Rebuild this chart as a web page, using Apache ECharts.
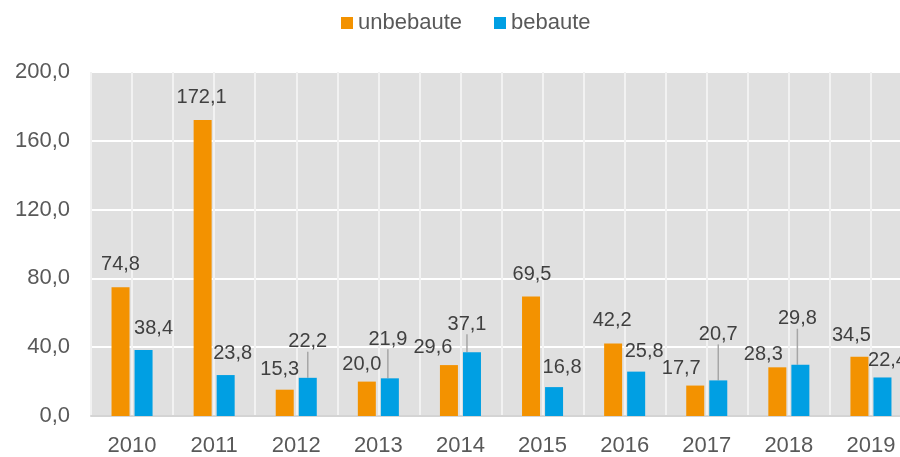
<!DOCTYPE html>
<html>
<head>
<meta charset="utf-8">
<script src="https://cdn.jsdelivr.net/npm/echarts@6/dist/echarts.min.js"></script>
<style>
  html, body { margin: 0; padding: 0; background: #ffffff; }
  #chart { width: 900px; height: 457px; }
</style>
</head>
<body>
<div id="chart"></div>
<script>
const years = ['2010', '2011', '2012', '2013', '2014', '2015', '2016', '2017', '2018', '2019'];
const unbebaute = [74.8, 172.1, 15.3, 20.0, 29.6, 69.5, 42.2, 17.7, 28.3, 34.5];
const bebaute = [38.4, 23.8, 22.2, 21.9, 37.1, 16.8, 25.8, 20.7, 29.8, 22.4];
const yTicks = [0, 40, 80, 120, 160, 200];

// label shifts (px) as placed in the original chart
const shiftUnbebaute = [[0, -8], [-1, -8], [-5, -5], [-5, -2], [-16, -3], [1, -7], [-1, -8], [-14, -2], [-14, 2], [-8, -6]];
const shiftBebaute = [[10, -6], [7, -7], [0, -21], [-2, -24], [-5, -13], [8, -5], [8, -5], [0, -31], [-3, -31], [5, -2]];
const leaderBebaute = [false, false, true, true, true, false, false, true, true, false];

const fmt = v => v.toFixed(1).replace('.', ',');

const chart = echarts.init(document.getElementById('chart'));

const labelBase = {
  show: true,
  position: 'top',
  distance: 5,
  color: '#404040',
  fontFamily: 'Liberation Sans',
  fontSize: 20,
  formatter: p => fmt(p.value)
};

chart.setOption({
  animation: false,
  textStyle: { fontFamily: 'Liberation Sans' },
  legend: {
    top: 7,
    left: 336,
    padding: [5, 5, 5, 5],
    itemWidth: 12,
    itemHeight: 12,
    itemGap: 32,
    icon: 'rect',
    textStyle: { color: '#595959', fontSize: 22 },
    data: ['unbebaute', 'bebaute']
  },
  grid: {
    left: 91,
    width: 821,
    top: 72,
    bottom: 41,
    outerBoundsMode: 'none',
    containLabel: false,
    show: true,
    backgroundColor: '#e0e0e0',
    borderWidth: 0
  },
  xAxis: [
    {
      type: 'category',
      data: years,
      axisLine: { lineStyle: { color: '#d4d4d4', width: 2 } },
      axisTick: { show: false },
      axisLabel: { color: '#595959', fontSize: 22, margin: 19 },
      splitLine: { show: false }
    },
    {
      type: 'value',
      min: 0,
      max: 20,
      interval: 1,
      show: true,
      axisLine: { show: false },
      axisTick: { show: false },
      axisLabel: { show: false },
      splitLine: { show: true, lineStyle: { color: '#f2f2f2', width: 2 } }
    }
  ],
  yAxis: {
    type: 'value',
    min: yTicks[0],
    max: yTicks[yTicks.length - 1],
    interval: 40,
    axisLine: { show: false },
    axisTick: { show: false },
    axisLabel: { color: '#595959', fontSize: 22, margin: 21, formatter: v => fmt(v) },
    splitLine: { lineStyle: { color: '#ffffff', width: 2 } }
  },
  series: [
    {
      name: 'unbebaute',
      type: 'bar',
      barWidth: 18,
      barGap: '28%',
      itemStyle: { color: '#f39200' },
      label: labelBase,
      labelLayout: p => ({ dx: shiftUnbebaute[p.dataIndex][0], dy: shiftUnbebaute[p.dataIndex][1] }),
      data: unbebaute
    },
    {
      name: 'bebaute',
      type: 'bar',
      barWidth: 18,
      itemStyle: { color: '#009fe3' },
      label: labelBase,
      labelLine: { show: false, lineStyle: { color: '#a6a6a6', width: 1.5 } },
      labelLayout: p => ({ dx: shiftBebaute[p.dataIndex][0], dy: shiftBebaute[p.dataIndex][1] }),
      data: bebaute.map((v, i) => ({
        value: v,
        labelLine: { show: leaderBebaute[i], lineStyle: { color: '#a6a6a6', width: 1.5 } }
      }))
    }
  ]
});
</script>
</body>
</html>
